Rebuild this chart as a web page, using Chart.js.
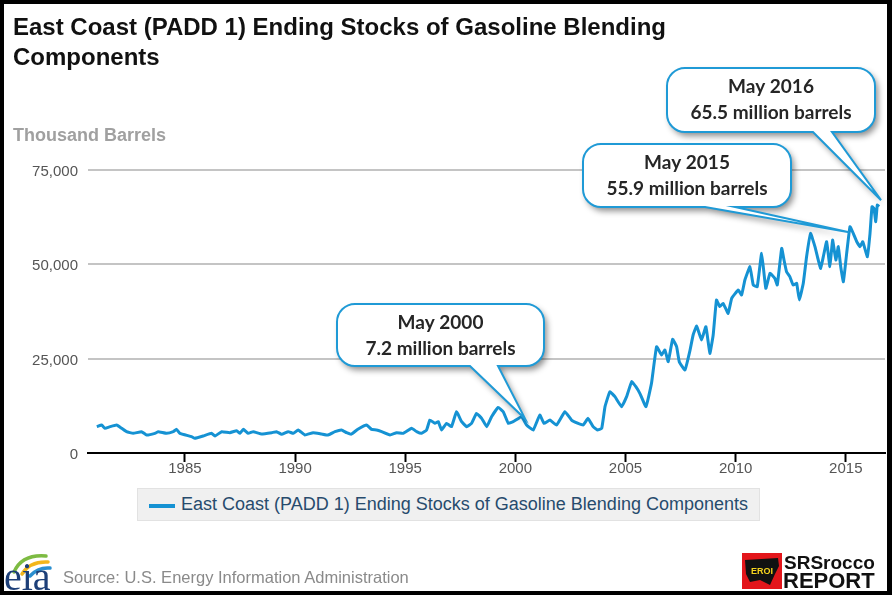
<!DOCTYPE html>
<html><head><meta charset="utf-8">
<script src="https://cdn.jsdelivr.net/npm/chart.js@4.4.0/dist/chart.umd.min.js"></script>
<style>
html,body{margin:0;padding:0;background:#fff;}
#wrap{position:relative;width:892px;height:595px;overflow:hidden;background:#fff;}
#c{position:absolute;left:0;top:0;}
.frame{position:absolute;left:0;top:0;width:892px;height:595px;box-sizing:border-box;border:4px solid #000;border-right-width:5px;pointer-events:none;}
#title{position:absolute;left:13px;top:12px;font:bold 24px "Liberation Sans",Arial,sans-serif;line-height:30px;color:#111;white-space:nowrap;}
#ytitle{position:absolute;left:13px;top:125px;font:bold 18px "Liberation Sans",Arial,sans-serif;color:#a0a0a0;white-space:nowrap;}
#legend{position:absolute;left:137px;top:488px;width:623px;height:33px;background:#f0f0f0;border:1px solid #e2e2e2;box-sizing:border-box;}
#legend .sym{position:absolute;left:11px;top:15px;width:26px;height:4px;background:#1592d3;}
#legend .txt{position:absolute;left:43px;top:5px;font:18px "Liberation Sans",Arial,sans-serif;color:#274b6d;white-space:nowrap;}
#source{position:absolute;left:63px;top:568px;font:16.5px "Liberation Sans",Arial,sans-serif;color:#8a8a8a;white-space:nowrap;}
</style></head>
<body>
<div id="wrap">
<canvas id="c" width="892" height="595"></canvas>
<div id="title">East Coast (PADD 1) Ending Stocks of Gasoline Blending<br>Components</div>
<div id="ytitle">Thousand Barrels</div>
<div id="legend"><div class="sym"></div><div class="txt" id="legtxt"></div></div>
<div id="source">Source: U.S. Energy Information Administration</div>
<div class="frame"></div>
</div>
<script>
// ---- data ----
const years = [
1981.0,1981.22,1981.37,1981.6,1981.9,1982.13,1982.35,1982.65,1983.03,1983.26,1983.64,1983.79,1984.17,1984.47,1984.62,1984.77,
1985.3,1985.45,1985.83,1986.21,1986.36,1986.67,1987.04,1987.35,1987.5,1987.65,1987.87,1988.1,1988.48,1988.94,1989.16,1989.39,
1989.69,1989.92,1990.14,1990.45,1990.82,1991.2,1991.5,1991.81,1992.11,1992.34,1992.55,1992.85,1993.25,1993.47,1993.7,1993.93,
1994.31,1994.61,1994.91,1995.29,1995.52,1995.74,1995.97,1996.12,1996.35,1996.5,1996.65,1996.88,1997.1,1997.33,1997.56,1997.79,
1998.01,1998.24,1998.47,1998.7,1998.92,1999.22,1999.45,1999.68,1999.9,2000.28,2000.51,2000.81,2001.11,2001.3,2001.57,2001.87,
2002.25,2002.55,2002.85,2003.08,2003.3,2003.53,2003.72,2003.92,2004.07,2004.29,2004.52,2004.82,2005.05,2005.28,2005.47,2005.65,
2005.93,2006.18,2006.41,2006.64,2006.79,2006.94,2007.14,2007.32,2007.44,2007.7,2007.92,2008.07,2008.23,2008.45,2008.65,2008.83,
2008.98,2009.13,2009.28,2009.43,2009.66,2009.82,2010.12,2010.27,2010.42,2010.65,2010.8,2010.98,2011.18,2011.37,2011.56,2011.78,
2011.89,2012.09,2012.2,2012.31,2012.46,2012.61,2012.77,2012.89,2013.07,2013.22,2013.4,2013.6,2013.75,2013.86,2013.98,2014.13,
2014.28,2014.4,2014.55,2014.66,2014.77,2014.89,2015.04,2015.19,2015.34,2015.5,2015.65,2015.77,2015.98,2016.1,2016.19,2016.28,
2016.36,2016.43,2016.51
];
const stocks = [
6970,7420,6540,6980,7420,6540,5650,5210,5650,4770,5210,5650,5210,5650,6270,5210,
4330,3890,4500,5210,4500,5650,5390,5920,5210,6270,5210,5650,5040,5390,5650,4950,
5650,5210,6100,4770,5390,5040,4770,5650,6100,5390,5000,6300,7420,6270,6100,5650,
4770,5390,5210,6540,5650,5210,6100,8740,7860,8300,6100,7860,6980,10950,8300,6980,
7860,10500,9180,6980,9620,12090,10950,7860,8300,9620,7420,6100,10070,7860,8740,7420,
10950,8740,7860,7420,9180,6980,6100,6540,12280,16250,14930,12280,14930,18900,17580,15810,
12280,18460,28180,25970,27300,24200,30120,28180,24200,22000,27000,31270,33650,29950,33480,26410,
31270,40550,38780,39660,37010,40990,43200,41870,45850,49380,44520,44080,52910,43640,47610,46290,
44520,54230,51000,48050,46730,44520,44960,40550,44960,52030,58210,54680,51150,48930,52030,56000,
49380,56450,51150,54680,49380,45400,52910,59980,58210,56000,54680,56000,52030,58210,65280,64840,
61300,65720,65280
];
const seriesLabel = 'East Coast (PADD 1) Ending Stocks of Gasoline Blending Components';
const xTickYears = [1985, 1990, 1995, 2000, 2005, 2010, 2015];
const yTickValues = [0, 25000, 50000, 75000];
const calloutLines = [
  ['May 2000', '7.2 million barrels'],
  ['May 2015', '55.9 million barrels'],
  ['May 2016', '65.5 million barrels']
];
const calloutTipYears = [2000.45, 2015.15, 2016.6];
const calloutTipValues = [9000, 58500, 67000];

// ---- layout (positions only) ----
const calloutBoxes = [
  {x:337, y:304, w:207, h:62, r:18, b1:470, b2:498},
  {x:583, y:144, w:208, h:63, r:18, b1:705, b2:735},
  {x:667, y:68,  w:208, h:64, r:18, b1:813, b2:832}
];

document.getElementById('legtxt').textContent = seriesLabel;

function drawCallout(ctx, b, tip, lines){
  const {x,y,w,h,r,b1,b2} = b;
  ctx.save();
  ctx.beginPath();
  ctx.moveTo(x+r, y);
  ctx.lineTo(x+w-r, y);
  ctx.arcTo(x+w, y, x+w, y+r, r);
  ctx.lineTo(x+w, y+h-r);
  ctx.arcTo(x+w, y+h, x+w-r, y+h, r);
  ctx.lineTo(b2, y+h);
  ctx.lineTo(tip.x, tip.y);
  ctx.lineTo(b1, y+h);
  ctx.lineTo(x+r, y+h);
  ctx.arcTo(x, y+h, x, y+h-r, r);
  ctx.lineTo(x, y+r);
  ctx.arcTo(x, y, x+r, y, r);
  ctx.closePath();
  ctx.shadowColor = 'rgba(0,0,0,0.45)';
  ctx.shadowBlur = 6; ctx.shadowOffsetX = 3; ctx.shadowOffsetY = 4;
  ctx.fillStyle = '#fff';
  ctx.fill();
  ctx.shadowColor = 'rgba(0,0,0,0)';
  ctx.lineWidth = 2; ctx.strokeStyle = '#1f9ad6';
  ctx.stroke();
  ctx.fillStyle = '#262626';
  ctx.font = 'bold 19px Lato, "Open Sans", sans-serif';
  ctx.textAlign = 'center'; ctx.textBaseline = 'middle';
  ctx.fillText(lines[0], x + w/2, y + 19);
  ctx.fillText(lines[1], x + w/2, y + 45);
  ctx.restore();
}

function drawLogos(ctx){
  ctx.save();
  // EIA logo
  ctx.lineCap = 'round';
  ctx.lineWidth = 3.5;
  ctx.strokeStyle = '#7dbb42';
  ctx.beginPath(); ctx.moveTo(14,572); ctx.quadraticCurveTo(22,554,46,556); ctx.stroke();
  ctx.strokeStyle = '#f2b61b';
  ctx.beginPath(); ctx.moveTo(22,574); ctx.quadraticCurveTo(30,561,48,562); ctx.stroke();
  ctx.strokeStyle = '#2a8fd0';
  ctx.beginPath(); ctx.moveTo(30,576); ctx.quadraticCurveTo(38,567,50,568); ctx.stroke();
  ctx.fillStyle = '#1d3f78';
  ctx.font = '40px "Liberation Serif", serif';
  ctx.textAlign = 'left'; ctx.textBaseline = 'alphabetic';
  ctx.fillText('eia', 4, 590);
  // SRSrocco logo
  ctx.fillStyle = '#e3161b';
  ctx.fillRect(742, 553, 40, 36);
  ctx.fillStyle = '#111';
  ctx.beginPath();
  ctx.moveTo(745,560); ctx.lineTo(778,558); ctx.lineTo(779,566); ctx.lineTo(775,574);
  ctx.lineTo(770,585); ctx.lineTo(760,580); ctx.lineTo(750,582); ctx.lineTo(746,574); ctx.closePath();
  ctx.fill();
  ctx.fillStyle = '#f5d31e';
  ctx.font = 'bold 9px "Liberation Sans", Arial, sans-serif';
  ctx.fillText('EROI', 751, 574);
  ctx.fillStyle = '#111';
  ctx.font = 'bold 19px "Liberation Sans", Arial, sans-serif';
  ctx.fillText('SRSrocco', 784, 569);
  ctx.font = 'bold 22px "Liberation Sans", Arial, sans-serif';
  ctx.fillText('REPORT', 783, 588);
  ctx.restore();
}

const overlay = {
  id: 'overlay',
  afterDraw(chart){
    const ctx = chart.ctx;
    const xs = chart.scales.x, ys = chart.scales.y;
    calloutBoxes.forEach((b, i) => {
      const tip = {x: xs.getPixelForValue(calloutTipYears[i]), y: ys.getPixelForValue(calloutTipValues[i])};
      drawCallout(ctx, b, tip, calloutLines[i]);
    });
    drawLogos(ctx);
  }
};

new Chart(document.getElementById('c'), {
  type: 'line',
  data: {
    datasets: [{
      label: seriesLabel,
      data: years.map((yr, i) => ({x: yr, y: stocks[i]})),
      borderColor: '#1592d3',
      borderWidth: 3,
      pointRadius: 0,
      tension: 0.1,
      borderJoinStyle: 'round',
      fill: false
    }]
  },
  options: {
    responsive: false,
    devicePixelRatio: 1,
    animation: false,
    layout: {padding: {top: 170, right: 7, left: 0, bottom: 0}},
    plugins: {legend: {display: false}, tooltip: {enabled: false}},
    scales: {
      x: {
        type: 'linear', min: 1980.6, max: 2016.78,
        afterBuildTicks: s => { s.ticks = xTickYears.map(v => ({value: v})); },
        afterFit: s => { s.height = 142; },
        ticks: {callback: v => String(v), font: {size: 15, family: '"Liberation Sans", Arial, sans-serif'}, color: '#555', padding: -2, maxRotation: 0, autoSkip: false},
        grid: {drawOnChartArea: false, drawTicks: true, tickLength: 9, tickWidth: 2, tickColor: '#000'},
        border: {display: true, color: '#000', width: 2}
      },
      y: {
        min: 0, max: 75000,
        afterBuildTicks: s => { s.ticks = yTickValues.map(v => ({value: v})); },
        afterFit: s => { s.width = 88; },
        ticks: {callback: v => v.toLocaleString('en-US'), font: {size: 15, family: '"Liberation Sans", Arial, sans-serif'}, color: '#555', padding: 10, labelOffset: 2},
        grid: {color: c => (c.tick && c.tick.value === 0) ? 'rgba(0,0,0,0)' : '#c4c4c4', lineWidth: 2, drawTicks: false},
        border: {display: false}
      }
    }
  },
  plugins: [overlay]
});
</script>
</body></html>
